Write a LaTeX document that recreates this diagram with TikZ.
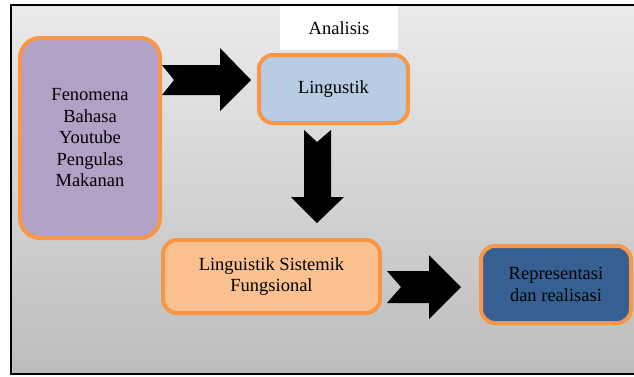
\documentclass[tikz,border=0pt]{standalone}
\usepackage{fontspec}
\setmainfont{Liberation Serif}
\definecolor{rimorange}{HTML}{F79646}
\definecolor{fenpurple}{HTML}{B2A1C7}
\definecolor{linblue}{HTML}{B8CCE4}
\definecolor{lsfpeach}{HTML}{FAC090}
\definecolor{repblue}{HTML}{366092}

\begin{document}
\begin{tikzpicture}[x=1pt,y=-1pt,
    every node/.style={font=\fontsize{18.5}{21.5}\selectfont,align=center,inner sep=0pt},
    box/.style={draw=rimorange,line width=4pt,rounded corners=14pt}]
        \useasboundingbox (0,0) rectangle (634,376);
        % Define the background frame
        \shade[top color=black!8,bottom color=black!26] (11,5) rectangle (640,374);
        \draw[line width=1.3pt] (640,5) -- (11,5) -- (11,374) -- (640,374);
        % Define the block arrows
        \fill (162,65) -- (220,65) -- (220,48) -- (251,80) -- (220,111) -- (220,95) -- (162,95) -- (174,80) -- cycle;
        \fill (304,130) -- (317,142) -- (331,130) -- (331,197) -- (344,197) -- (317,223) -- (291,197) -- (304,197) -- cycle;
        \fill (387,271) -- (429,271) -- (429,255) -- (461,287) -- (429,319) -- (429,303) -- (387,303) -- (401,287) -- cycle;
        % Define the nodes
        \node[fill=white,minimum width=118pt,minimum height=44pt] (analisis) at (339,28) {Analisis};
        \node[box,fill=fenpurple,rounded corners=20pt,minimum width=140pt,minimum height=200pt] (fenomena) at (90,138) {Fenomena\\Bahasa\\Youtube\\Pengulas\\Makanan};
        \node[box,fill=linblue,minimum width=149pt,minimum height=68pt] (lingustik) at (333.5,89) {Lingustik};
        \node[box,fill=lsfpeach,minimum width=217pt,minimum height=73pt] (lsf) at (271.5,276.5) {Linguistik Sistemik\\Fungsional};
        \node[box,fill=repblue,minimum width=150pt,minimum height=77pt] (representasi) at (556,284.5) {Representasi\\dan realisasi};
    \end{tikzpicture}
\end{document}
